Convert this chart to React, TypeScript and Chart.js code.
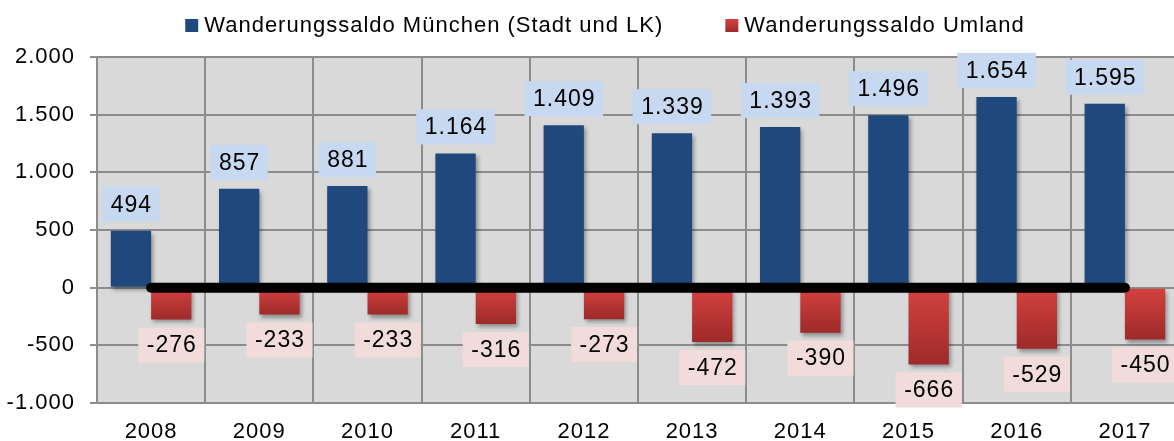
import React, { useEffect, useRef } from "react";
import { Chart, registerables } from "chart.js";

Chart.register(...registerables);

const years = ["2008", "2009", "2010", "2011", "2012", "2013", "2014", "2015", "2016", "2017"];
const muenchen = [494, 857, 881, 1164, 1409, 1339, 1393, 1496, 1654, 1595];
const umland = [-276, -233, -233, -316, -273, -472, -390, -666, -529, -450];
const baseline = [0, 0, 0, 0, 0, 0, 0, 0, 0, 0];
const seriesNames = ["Wanderungssaldo München (Stadt und LK)", "Wanderungssaldo Umland"];
const yTicks = [-1000, -500, 0, 500, 1000, 1500, 2000];

const FONT = "'Liberation Sans', Arial, sans-serif";
const BLUE = "#1f497d";
const RED_TOP = "#d3423f";
const RED_BOTTOM = "#9e2a2a";
const GRID = "#8c8c8c";

function fmt(v: number): string {
  const neg = v < 0;
  const s = String(Math.abs(Math.round(v))).replace(/\B(?=(\d{3})+(?!\d))/g, ".");
  return (neg ? "-" : "") + s;
}

const bgPlugin = {
  id: "plotBg",
  beforeDraw(chart: any) {
    const { ctx, chartArea } = chart;
    ctx.letterSpacing = "1px";
    ctx.save();
    ctx.fillStyle = "#d9d9d9";
    ctx.fillRect(chartArea.left, chartArea.top, chartArea.right - chartArea.left, chartArea.bottom - chartArea.top);
    ctx.restore();
  },
};

const shadowPlugin = {
  id: "barShadow",
  beforeDatasetDraw(chart: any, args: any) {
    if (args.meta.type !== "bar") return;
    const ctx = chart.ctx;
    ctx.save();
    ctx.shadowColor = "rgba(0,0,0,0.35)";
    ctx.shadowBlur = 4;
    ctx.shadowOffsetX = 2;
    ctx.shadowOffsetY = 3;
  },
  afterDatasetDraw(chart: any, args: any) {
    if (args.meta.type !== "bar") return;
    chart.ctx.restore();
  },
};

const labelPlugin = {
  id: "valueLabels",
  afterDraw(chart: any) {
    const ctx = chart.ctx;
    ctx.save();
    ctx.letterSpacing = "1px";
    ctx.font = `23px ${FONT}`;
    ctx.textAlign = "center";
    ctx.textBaseline = "middle";
    const boxH = 35;
    const padX = 8;
    [0, 1].forEach((di) => {
      const meta = chart.getDatasetMeta(di);
      const data = chart.data.datasets[di].data as number[];
      meta.data.forEach((bar: any, i: number) => {
        const v = data[i];
        const txt = fmt(v);
        const w = ctx.measureText(txt).width + padX * 2;
        let top: number;
        if (v >= 0) {
          top = bar.y - 9 - boxH;
        } else {
          top = bar.y + 8;
        }
        ctx.fillStyle = v >= 0 ? "#c6d9f1" : "#f2dcdb";
        ctx.fillRect(bar.x - w / 2, top, w, boxH);
        ctx.fillStyle = "#000000";
        ctx.fillText(txt, bar.x + 0.5, top + boxH / 2 + 1);
      });
    });
    ctx.restore();
  },
};

const legendPlugin = {
  id: "customLegend",
  afterDraw(chart: any) {
    const ctx = chart.ctx;
    ctx.save();
    ctx.letterSpacing = "1px";
    ctx.font = `22px ${FONT}`;
    ctx.textBaseline = "alphabetic";
    ctx.textAlign = "left";
    const box = 13;
    const gapBox = 6;
    const gapItem = 62;
    const widths = seriesNames.map((n) => ctx.measureText(n).width);
    const total = widths.reduce((a, w) => a + box + gapBox + w, 0) + gapItem * (seriesNames.length - 1);
    let x = 605 - total / 2;
    const baseY = 32;
    seriesNames.forEach((name, i) => {
      if (i === 0) {
        ctx.fillStyle = BLUE;
      } else {
        const g = ctx.createLinearGradient(0, baseY - box, 0, baseY);
        g.addColorStop(0, RED_TOP);
        g.addColorStop(1, RED_BOTTOM);
        ctx.fillStyle = g;
      }
      ctx.fillRect(x, baseY - box, box, box);
      x += box + gapBox;
      ctx.fillStyle = "#000000";
      ctx.fillText(name, x, baseY);
      x += widths[i] + gapItem;
    });
    ctx.restore();
  },
};

export default function App() {
  const canvasRef = useRef<HTMLCanvasElement | null>(null);

  useEffect(() => {
    document.body.style.margin = "0";
    const canvas = canvasRef.current;
    if (!canvas) return;
    const chart = new Chart(canvas, {
      type: "bar",
      data: {
        labels: years,
        datasets: [
          {
            type: "bar",
            label: seriesNames[0],
            data: muenchen,
            backgroundColor: BLUE,
            order: 1,
            barPercentage: 1,
            categoryPercentage: 0.745,
          },
          {
            type: "bar",
            label: seriesNames[1],
            data: umland,
            backgroundColor: (c: any) => {
              const ch = c.chart;
              if (!ch.chartArea || c.raw === undefined) return RED_TOP;
              const ys = ch.scales.y;
              const y0 = ys.getPixelForValue(0);
              const y1 = ys.getPixelForValue(c.raw);
              if (Math.abs(y1 - y0) < 1) return RED_TOP;
              const g = ch.ctx.createLinearGradient(0, y0, 0, y1);
              g.addColorStop(0, RED_TOP);
              g.addColorStop(1, RED_BOTTOM);
              return g;
            },
            order: 1,
            barPercentage: 1,
            categoryPercentage: 0.745,
          },
          {
            type: "line",
            label: "Null",
            data: baseline,
            borderColor: "#000000",
            borderWidth: 10,
            borderCapStyle: "round",
            pointRadius: 0,
            pointHoverRadius: 0,
            tension: 0,
            fill: false,
            order: 0,
          } as any,
        ],
      },
      options: {
        responsive: false,
        animation: false,
        events: [],
        layout: { padding: { top: 57, right: 5, left: 0, bottom: 0 } },
        plugins: {
          legend: { display: false },
          tooltip: { enabled: false },
          title: { display: false },
        },
        scales: {
          x: {
            offset: true,
            grid: { color: GRID, lineWidth: 2, drawTicks: false, offset: true },
            border: { color: GRID, width: 2 },
            ticks: { color: "#000000", font: { family: FONT, size: 22 }, padding: 16, maxRotation: 0 },
            afterFit: (s: any) => {
              s.height = 38;
            },
          },
          y: {
            min: -1000,
            max: 2000,
            afterBuildTicks: (s: any) => {
              s.ticks = yTicks.map((v) => ({ value: v }));
            },
            grid: { color: GRID, lineWidth: 2, tickLength: 7 },
            border: { color: GRID, width: 2 },
            ticks: {
              color: "#000000",
              font: { family: FONT, size: 22 },
              padding: 15,
              callback: (v: any) => fmt(Number(v)),
            },
            afterFit: (s: any) => {
              s.width = 97;
            },
          },
        },
      } as any,
      plugins: [bgPlugin, shadowPlugin, labelPlugin, legendPlugin],
    });
    return () => chart.destroy();
  }, []);

  return (
    <div style={{ width: 1174, height: 441, overflow: "hidden", background: "#ffffff" }}>
      <canvas ref={canvasRef} width={1184} height={441} style={{ display: "block" }} />
    </div>
  );
}
